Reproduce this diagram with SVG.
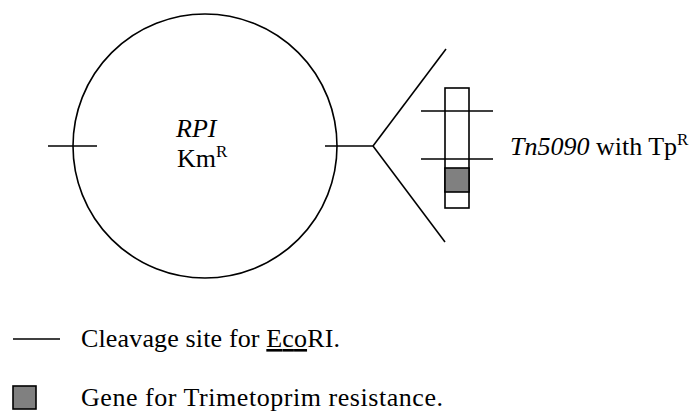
<svg xmlns="http://www.w3.org/2000/svg" width="695" height="412" viewBox="0 0 695 412">
<style>
.s{fill:none;stroke:#000;stroke-width:1.6}
.t{font-family:"Times New Roman","Liberation Serif","DejaVu Serif",serif;font-size:26px;fill:#000}
.i{font-style:italic}
.sup{font-size:17px}
.g{fill:#808080;stroke:#000;stroke-width:1.6}
</style>
<rect width="695" height="412" fill="#fff"/>
<g id="plasmid">
<circle class="s" cx="205" cy="146" r="132"/>
<text class="t i" x="176" y="137">RPI</text>
<text class="t" x="177" y="167">Km<tspan class="sup" dy="-10">R</tspan></text>
</g>
<g id="transposon">
<rect class="s" x="445" y="88" width="24" height="120"/>
<rect class="g" x="445" y="168" width="24" height="24"/>
<text class="t" x="510" y="155"><tspan class="i">Tn5090</tspan> with Tp<tspan class="sup" dy="-10">R</tspan></text>
</g>
<g id="connectors">
<line class="s" x1="48" y1="146" x2="97" y2="146"/>
<line class="s" x1="325" y1="146" x2="373" y2="146"/>
<line class="s" x1="373" y1="146" x2="446" y2="49"/>
<line class="s" x1="373" y1="146" x2="445" y2="242"/>
<line class="s" x1="421" y1="111" x2="493" y2="111"/>
<line class="s" x1="421" y1="159" x2="493" y2="159"/>
</g>
<g id="legend">
<line class="s" x1="13" y1="339" x2="60" y2="339"/>
<text class="t" x="81" y="347" textLength="259" lengthAdjust="spacing">Cleavage site for <tspan text-decoration="underline">Eco</tspan>RI.</text>
<rect class="g" x="13" y="386" width="23" height="23"/>
<text class="t" x="81" y="406" textLength="362" lengthAdjust="spacing">Gene for Trimetoprim resistance.</text>
</g>
</svg>
